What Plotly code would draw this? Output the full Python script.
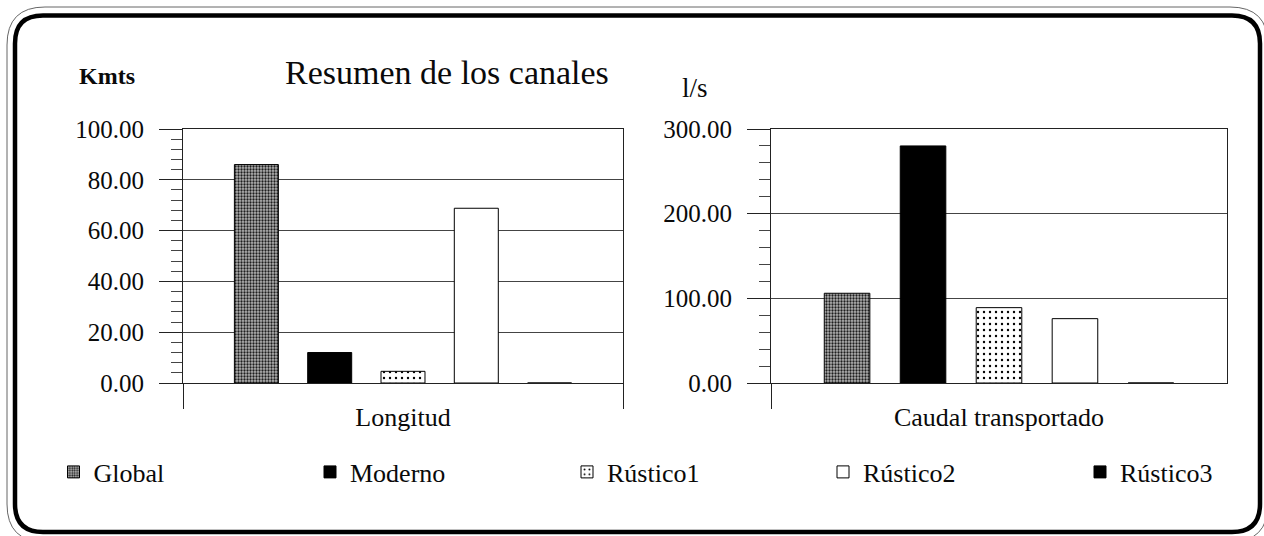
import plotly.graph_objects as go

W, H = 1264, 536

# ---- data ----
series = ["Global", "Moderno", "Rústico1", "Rústico2", "Rústico3"]
cat_left = ["Longitud"]
cat_right = ["Caudal transportado"]
longitud_kmts = [86.0, 12.0, 4.6, 68.8, 0.0]
caudal_ls = [106.0, 280.0, 89.0, 76.0, 0.0]
left_ticks = [0, 20, 40, 60, 80, 100]
right_ticks = [0, 100, 200, 300]

# ---- styles ----
FONT = "Liberation Serif"
INK = "#0a0a0a"
styles = {
    "Global": dict(color="#b8b8b8", pattern=dict(shape=".", bgcolor="#b4b4b4", fgcolor="#1e1e1e",
                                                  size=3, solidity=0.45, fillmode="replace")),
    "Moderno": dict(color="#000000"),
    "Rústico1": dict(color="#ffffff", pattern=dict(shape=".", bgcolor="#ffffff", fgcolor="#000000",
                                                    size=6, solidity=0.12, fillmode="replace")),
    "Rústico2": dict(color="#ffffff"),
    "Rústico3": dict(color="#000000"),
}
legend_names = ["legend", "legend2", "legend3", "legend4", "legend5"]
sym_centers = [68.5, 325, 582, 838, 1095]


def px(x):
    return x / W


def py(y):
    return 1 - y / H


fig = go.Figure()
for i, name in enumerate(series):
    st = styles[name]
    marker = dict(color=st["color"], line=dict(color="#000000", width=1))
    if "pattern" in st:
        marker["pattern"] = st["pattern"]
    fig.add_trace(go.Bar(x=cat_left, y=[longitud_kmts[i]], name=name, marker=marker,
                         xaxis="x", yaxis="y", legendgroup=name, showlegend=True,
                         legend=legend_names[i]))
    fig.add_trace(go.Bar(x=cat_right, y=[caudal_ls[i]], name=name, marker=marker,
                         xaxis="x2", yaxis="y2", legendgroup=name, showlegend=False,
                         legend=legend_names[i]))

ydom = [py(383), py(129)]
common_y = dict(
    tickformat=".2f", ticks="outside", ticklen=23, tickcolor="#222", tickwidth=1,
    showgrid=True, gridcolor="#444", gridwidth=1, showline=True, linecolor="#222",
    linewidth=1, mirror=True, zeroline=False, automargin=False,
    tickfont=dict(family=FONT, size=25, color=INK), ticklabelstandoff=10,
    domain=ydom,
)
common_x = dict(
    type="category", tickson="boundaries", ticks="outside", ticklen=25, tickcolor="#222",
    showgrid=False, showline=True, linecolor="#222", linewidth=1, mirror=True,
    zeroline=False, automargin=False,
    tickfont=dict(family=FONT, size=26, color=INK), ticklabelstandoff=11,
)

fig.update_layout(
    template="none",
    width=W, height=H, margin=dict(l=0, r=0, t=0, b=0, pad=0, autoexpand=False),
    paper_bgcolor="white", plot_bgcolor="white",
    barmode="group", bargap=0.167, bargroupgap=0.4,
    font=dict(family=FONT, color=INK),
    xaxis=dict(common_x, domain=[px(183), px(623)], anchor="y"),
    xaxis2=dict(common_x, domain=[px(771), px(1227)], anchor="y2"),
    yaxis=dict(common_y, range=[0, 100], tickvals=left_ticks, anchor="x",
               minor=dict(dtick=4, ticks="outside", ticklen=11, tickcolor="#444", showgrid=False)),
    yaxis2=dict(common_y, range=[0, 300], tickvals=right_ticks, anchor="x2",
                minor=dict(dtick=20, ticks="outside", ticklen=11, tickcolor="#444", showgrid=False)),
)

for i, ln in enumerate(legend_names):
    fig.layout[ln] = dict(
        x=px(sym_centers[i] - 15), xanchor="left", y=py(472), yanchor="middle",
        orientation="h", bgcolor="rgba(0,0,0,0)", borderwidth=0,
        font=dict(family=FONT, size=26, color=INK),
    )

# ---- text ----
fig.add_annotation(text="Resumen de los canales", x=px(283), y=py(73), xref="paper", yref="paper",
                   xanchor="left", yanchor="middle", showarrow=False,
                   font=dict(family=FONT, size=34, color=INK))
fig.add_annotation(text="<b>Kmts</b>", x=px(77), y=py(76), xref="paper", yref="paper",
                   xanchor="left", yanchor="middle", showarrow=False,
                   font=dict(family=FONT, size=24, color=INK))
fig.add_annotation(text="l/s", x=px(680), y=py(88), xref="paper", yref="paper",
                   xanchor="left", yanchor="middle", showarrow=False,
                   font=dict(family=FONT, size=27, color=INK))


# ---- rounded frame ----
def rrect(x0, y0, x1, y1, r):
    pts = [
        ("M", [(x0 + r, y0)]), ("L", [(x1 - r, y0)]), ("Q", [(x1, y0), (x1, y0 + r)]),
        ("L", [(x1, y1 - r)]), ("Q", [(x1, y1), (x1 - r, y1)]), ("L", [(x0 + r, y1)]),
        ("Q", [(x0, y1), (x0, y1 - r)]), ("L", [(x0, y0 + r)]), ("Q", [(x0, y0), (x0 + r, y0)]),
    ]
    s = ""
    for cmd, ps in pts:
        s += cmd + " " + " ".join(f"{px(a):.5f},{py(b):.5f}" for a, b in ps) + " "
    return s + "Z"


fig.add_shape(type="path", path=rrect(7, 7, 1268, 542, 38), xref="paper", yref="paper",
              line=dict(color="#666", width=1), layer="below")
fig.add_shape(type="path", path=rrect(15, 15.5, 1260, 532, 28), xref="paper", yref="paper",
              line=dict(color="#000", width=4.5), layer="above")

fig.write_html("out.html", config={"displayModeBar": False},
               post_script="document.body.style.margin='0';document.body.style.overflow='hidden';")
